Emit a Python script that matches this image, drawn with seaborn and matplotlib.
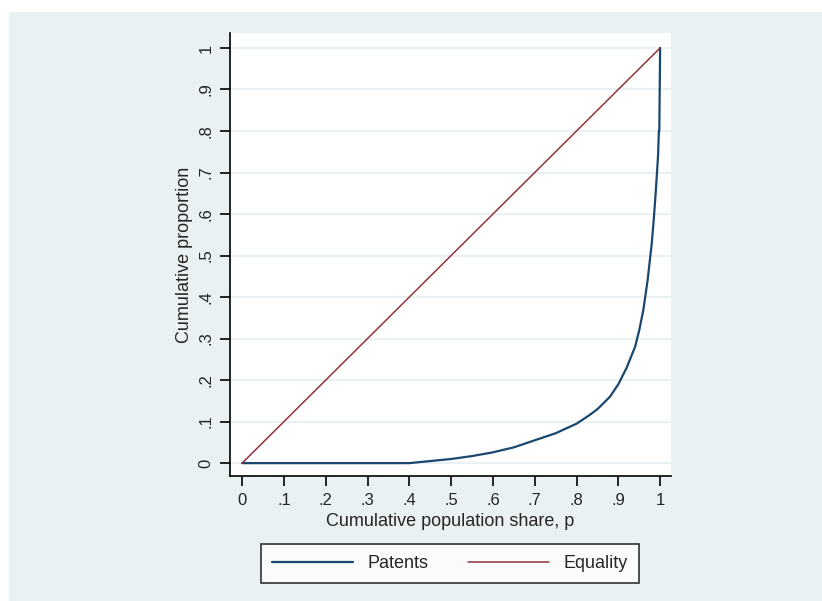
import numpy as np
import pandas as pd
import seaborn as sns
import matplotlib.pyplot as plt
from matplotlib.patches import Rectangle

# Lorenz curve
pop_share = [0.0, 0.10, 0.20, 0.30, 0.40, 0.42, 0.45, 0.50, 0.55, 0.60, 0.65,
             0.70, 0.75, 0.80, 0.83, 0.85, 0.88, 0.90, 0.92, 0.94, 0.95,
             0.96, 0.97, 0.98, 0.985, 0.99, 0.995, 0.997, 0.998, 1.0]
patents = [0.0, 0.0, 0.0, 0.0, 0.0, 0.002, 0.005, 0.010, 0.017, 0.026, 0.038,
           0.055, 0.072, 0.095, 0.115, 0.13, 0.16, 0.19, 0.23, 0.28, 0.32,
           0.37, 0.44, 0.53, 0.59, 0.66, 0.74, 0.80, 0.80, 1.0]
equality = [0.0, 1.0]
equality_x = [0.0, 1.0]

sns.set_style("white")
plt.rcParams['font.family'] = ['Liberation Sans', 'DejaVu Sans']

bg = "#e9f1f2"
fig = plt.figure(figsize=(8.22, 6.01), dpi=100)
fig.patch.set_facecolor("white")
W, H = 822, 601
fig.patches.append(Rectangle((9 / W, 0), 1, 1 - 12 / H, transform=fig.transFigure,
                             facecolor=bg, edgecolor="none", zorder=-10))

ax = fig.add_axes([230 / W, 1 - 476 / H, (671 - 230) / W, (476 - 33) / H])
ax.set_facecolor("white")

df1 = pd.DataFrame({"p": pop_share, "L": patents})
df2 = pd.DataFrame({"p": equality_x, "L": equality})
sns.lineplot(data=df1, x="p", y="L", ax=ax, color="#1a476f", lw=1.6,
             label="Patents", sort=False)
sns.lineplot(data=df2, x="p", y="L", ax=ax, color="#90353b", lw=1.1,
             label="Equality", sort=False)

ax.set_xlim(-0.029, 1.026)
ax.set_ylim(-0.031, 1.036)
ticks = np.round(np.arange(0, 1.01, 0.1), 1)
labels = ["0"] + ["." + str(i) for i in range(1, 10)] + ["1"]
ax.set_xticks(ticks)
ax.set_xticklabels(labels, fontsize=12)
ax.set_yticks(ticks)
ax.set_yticklabels(labels, fontsize=12, rotation=90, va="center")
ax.tick_params(axis="both", length=7, width=1.2, color="black", direction="out",
               bottom=True, left=True, pad=5)
ax.grid(axis="y", color=bg, lw=1.5)
ax.grid(axis="x", visible=False)
for s in ["top", "right"]:
    ax.spines[s].set_visible(False)
for s in ["left", "bottom"]:
    ax.spines[s].set_color("black")
    ax.spines[s].set_linewidth(1.2)

ax.set_xlabel("Cumulative population share, p", fontsize=13, labelpad=4)
ax.set_ylabel("Cumulative proportion", fontsize=13, labelpad=4)

leg = ax.legend(loc="upper center", bbox_to_anchor=(450 / W, 1 - 535 / H),
                bbox_transform=fig.transFigure, ncol=2, frameon=True,
                fancybox=False, fontsize=13, handlelength=4.5, columnspacing=2.2,
                handletextpad=0.8, borderpad=0.6)
leg.get_frame().set_edgecolor("black")
leg.get_frame().set_linewidth(1.2)

fig.savefig("out.png", dpi=100, facecolor=fig.get_facecolor())
